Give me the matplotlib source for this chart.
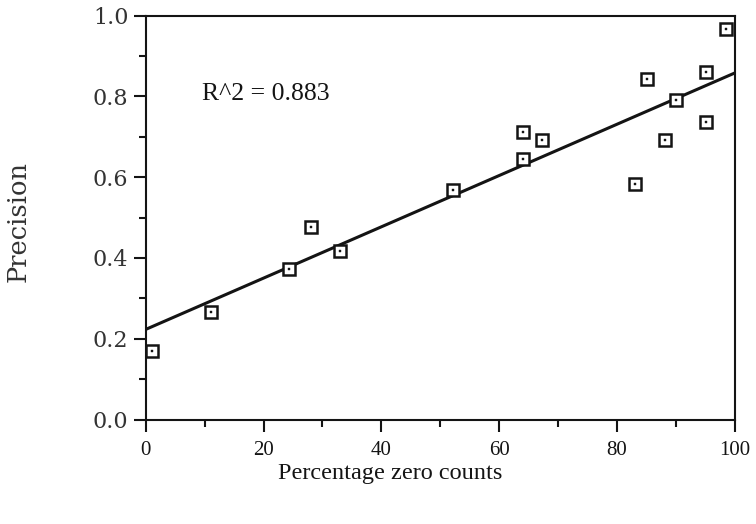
import matplotlib
matplotlib.use("Agg")
import matplotlib.pyplot as plt
from matplotlib.ticker import MultipleLocator, FormatStrFormatter

# Data
pct_zero = [1.0, 11.1, 24.3, 28.0, 32.9, 52.2, 64.1, 64.1, 67.3, 83.1, 85.1, 88.2, 90.0, 95.1, 95.1, 98.4]
precision = [0.170, 0.267, 0.372, 0.477, 0.418, 0.568, 0.711, 0.646, 0.691, 0.582, 0.842, 0.691, 0.790, 0.859, 0.736, 0.966]
fit_x = [0, 100]
fit_y = [0.223, 0.858]
r2_label = "R^2 = 0.883"

ink = "#141414"
fig = plt.figure(figsize=(7.56, 5.24), dpi=100)
ax = fig.add_axes([0.1927, 0.1994, 0.9722 - 0.1927, 0.9704 - 0.1994])

ax.plot(fit_x, fit_y, color=ink, lw=2.2, solid_capstyle="butt", zorder=2)
ax.plot(pct_zero, precision, ls="none", marker="s", ms=8.8, mfc="white",
        mec=ink, mew=1.8, zorder=3)
ax.plot(pct_zero, precision, ls="none", marker="s", ms=1.6, mfc=ink,
        mec=ink, mew=0.3, zorder=4)

ax.set_xlim(0, 100)
ax.set_ylim(0, 1.0)
ax.xaxis.set_major_locator(MultipleLocator(20))
ax.xaxis.set_minor_locator(MultipleLocator(10))
ax.yaxis.set_major_locator(MultipleLocator(0.2))
ax.yaxis.set_minor_locator(MultipleLocator(0.1))
ax.yaxis.set_major_formatter(FormatStrFormatter("%.1f"))

for s in ax.spines.values():
    s.set_linewidth(1.5)
    s.set_color(ink)

ax.tick_params(which="major", direction="out", length=8.5, width=1.5, color=ink)
ax.tick_params(which="minor", direction="out", length=5, width=1.5, color=ink)
ax.tick_params(axis="x", which="major", pad=7, labelsize=15,
               labelfontfamily="Liberation Serif", labelcolor=ink)
ax.tick_params(axis="y", which="major", pad=4, labelsize=16,
               labelfontfamily="DejaVu Serif", labelcolor="#333333")

ax.text(9.5, 0.806, r2_label, fontfamily="Liberation Serif", fontsize=18.5,
        color=ink, va="center", ha="left")

fig.text(390 / 756, 1 - 473 / 524, "Percentage zero counts", fontfamily="Liberation Serif",
         fontsize=17.5, color=ink, ha="center", va="center")
fig.text(18 / 756, 1 - 222 / 524, "Precision", fontfamily="DejaVu Serif",
         fontsize=18.5, color="#333333", ha="center", va="center", rotation=90)

fig.savefig("out.png", dpi=100, facecolor="white")
